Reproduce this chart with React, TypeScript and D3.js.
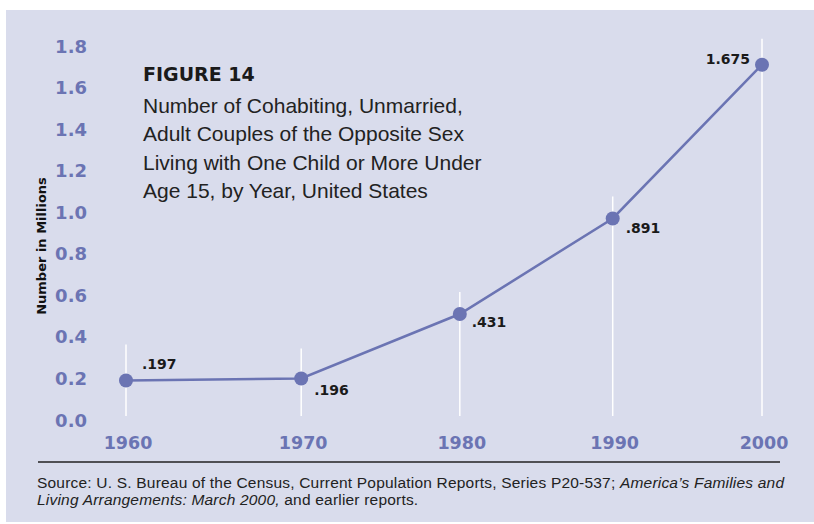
import React from "react";
import * as d3 from "d3";

const years = [1960, 1970, 1980, 1990, 2000];
const plottedValues = [0.19, 0.2, 0.51, 0.97, 1.71];
const valueLabels = [".197", ".196", ".431", ".891", "1.675"];
const yTicks = [0, 0.2, 0.4, 0.6, 0.8, 1.0, 1.2, 1.4, 1.6, 1.8];
const titleText = "FIGURE 14";
const subtitleLines = [
  "Number of Cohabiting, Unmarried,",
  "Adult Couples of the Opposite Sex",
  "Living with One Child or More Under",
  "Age 15, by Year, United States",
];
const yAxisTitle = "Number in Millions";

const labelPlacement = [
  { dx: 16, dy: -12, anchor: "start" },
  { dx: 13, dy: 17, anchor: "start" },
  { dx: 12, dy: 13, anchor: "start" },
  { dx: 13, dy: 15, anchor: "start" },
  { dx: -12, dy: -1, anchor: "end" },
];
const guideExtra = [36, 30, 22, 22, 26];

const W = 814;
const H = 524;
const BG = "#d9dcec";
const ACCENT = "#6b74b3";
const BOLD = "'DejaVu Sans', sans-serif";
const REG = "'Liberation Sans', Arial, sans-serif";

export default function App() {
  const x = d3.scalePow().exponent(0.93).domain([0, 40]).range([126, 762]);
  const xs = (yr: number) => x(yr - years[0]);
  const y = d3.scaleLinear().domain([0, 1.8]).range([420, 46]);
  const line = d3
    .line<number>()
    .x((_, i) => xs(years[i]))
    .y((d) => y(d));

  return (
    <svg
      width={W}
      height={H}
      style={{ position: "absolute", left: 0, top: 0, display: "block" }}
    >
      <rect x={0} y={0} width={W} height={H} fill="#ffffff" />
      <rect x={6} y={10} width={W - 6} height={512} fill={BG} />

      {/* vertical white guide lines */}
      {plottedValues.map((v, i) => (
        <line
          key={"g" + i}
          x1={xs(years[i])}
          x2={xs(years[i])}
          y1={y(v) - guideExtra[i]}
          y2={416}
          stroke="#ffffff"
          strokeWidth={1.5}
        />
      ))}

      {/* y tick labels */}
      {yTicks.map((t) => (
        <text
          key={"yt" + t}
          x={87}
          y={y(t) + 6.5}
          textAnchor="end"
          fontFamily={BOLD}
          fontWeight="bold"
          fontSize={18}
          fill={ACCENT}
        >
          {t.toFixed(1)}
        </text>
      ))}

      {/* x labels */}
      {years.map((yr) => (
        <text
          key={"xl" + yr}
          x={xs(yr) + 2}
          y={449}
          textAnchor="middle"
          fontFamily={BOLD}
          fontWeight="bold"
          fontSize={17.5}
          fill={ACCENT}
        >
          {yr}
        </text>
      ))}

      {/* axis title */}
      <text
        transform={`translate(46,246) rotate(-90)`}
        textAnchor="middle"
        fontFamily={BOLD}
        fontWeight="bold"
        fontSize={13}
        fill="#111"
      >
        {yAxisTitle}
      </text>

      {/* line and points */}
      <path d={line(plottedValues) || ""} fill="none" stroke={ACCENT} strokeWidth={2.5} />
      {plottedValues.map((v, i) => (
        <circle key={"c" + i} cx={xs(years[i])} cy={y(v)} r={7} fill={ACCENT} />
      ))}

      {/* value labels */}
      {plottedValues.map((v, i) => (
        <text
          key={"vl" + i}
          x={xs(years[i]) + labelPlacement[i].dx}
          y={y(v) + labelPlacement[i].dy}
          textAnchor={labelPlacement[i].anchor as any}
          fontFamily={BOLD}
          fontWeight="bold"
          fontSize={14}
          fill="#1a1a1a"
        >
          {valueLabels[i]}
        </text>
      ))}

      {/* title block */}
      <text x={143} y={81} fontFamily={BOLD} fontWeight="bold" fontSize={19} fill="#1a1a1a">
        {titleText}
      </text>
      {subtitleLines.map((s, i) => (
        <text
          key={"st" + i}
          x={143}
          y={112.7 + i * 28.5}
          fontFamily={REG}
          fontSize={21}
          fill="#222"
        >
          {s}
        </text>
      ))}

      {/* source */}
      <line x1={38} x2={780} y1={462} y2={462} stroke="#222" strokeWidth={1.5} />
      <text x={37} y={488} fontFamily={REG} fontSize={15.5} letterSpacing={0.2} fill="#222">
        <tspan>Source:  U. S. Bureau of the Census, Current Population Reports, Series P20-537; </tspan>
        <tspan fontStyle="italic">America’s Families and</tspan>
      </text>
      <text x={37} y={505} fontFamily={REG} fontSize={15.5} letterSpacing={0.2} fill="#222">
        <tspan fontStyle="italic">Living Arrangements: March 2000,</tspan>
        <tspan> and earlier reports.</tspan>
      </text>
    </svg>
  );
}
